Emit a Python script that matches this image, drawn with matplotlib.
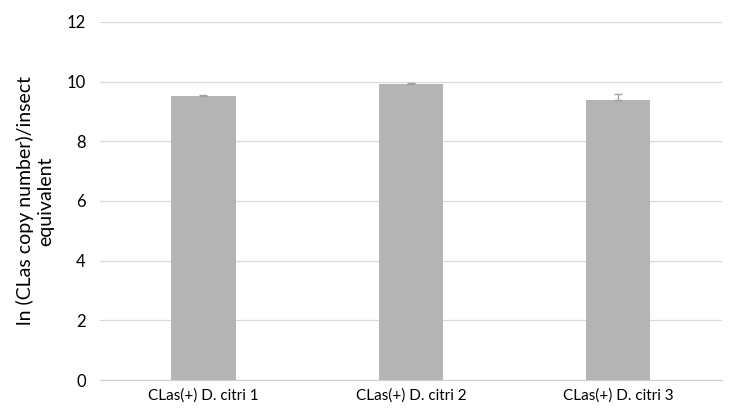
import matplotlib
matplotlib.use("Agg")
import matplotlib.pyplot as plt
import numpy as np

# data
groups = ["CLas(+) D. citri 1", "CLas(+) D. citri 2", "CLas(+) D. citri 3"]
means = [9.52, 9.92, 9.39]
errs = [0.04, 0.03, 0.2]
yticks = [0, 2, 4, 6, 8, 10, 12]

plt.rcParams['font.family'] = ['Lato', 'DejaVu Sans']

fig = plt.figure(figsize=(7.33, 4.2), dpi=100)
ax = fig.add_axes([0.136, 0.095, 0.849, 0.853])

x = np.arange(len(groups))
ax.bar(x, means, width=0.31, color='#b4b4b4', zorder=2)
ax.errorbar(x, means, yerr=[[0, 0, 0], errs], fmt='none', ecolor='#a0a0a0',
            elinewidth=1, capsize=3, zorder=3)

ax.set_xlim(-0.5, 2.5)
ax.set_ylim(0, 12)
ax.set_yticks(yticks)
ax.set_xticks(x)
ax.set_xticklabels(groups, fontsize=11)
ax.tick_params(axis='y', labelsize=12, length=0, pad=10)
ax.tick_params(axis='x', length=0, pad=6)
ax.grid(axis='y', color='#d9d9d9', linewidth=0.9, zorder=0)
for s in ['top', 'right', 'left']:
    ax.spines[s].set_visible(False)
ax.spines['bottom'].set_color('#d0d0d0')
ax.set_ylabel("ln (CLas copy number)/insect\nequivalent", fontsize=14, labelpad=9)

fig.savefig("out.png", dpi=100)
